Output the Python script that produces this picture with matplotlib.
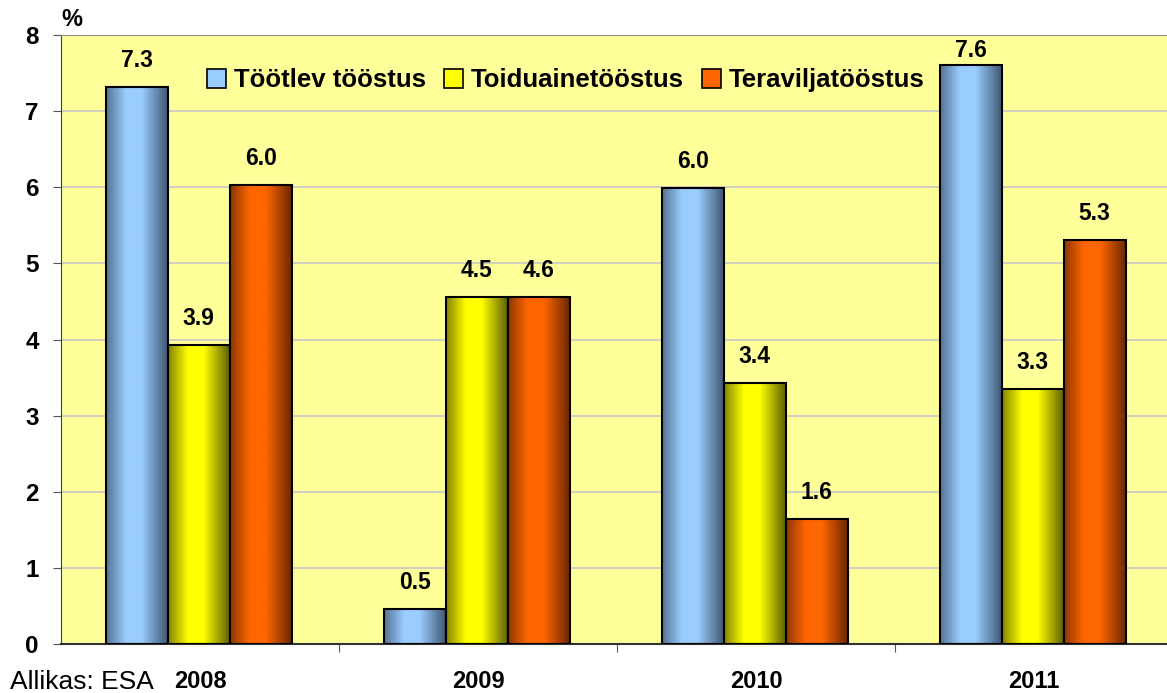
import numpy as np
import matplotlib
matplotlib.use("Agg")
import matplotlib.pyplot as plt
from matplotlib.colors import LinearSegmentedColormap
from matplotlib.patches import Rectangle
from matplotlib.legend_handler import HandlerBase

plt.rcParams['font.family'] = ['Liberation Sans', 'DejaVu Sans']

years = ["2008", "2009", "2010", "2011"]
series_names = ["Töötlev tööstus", "Toiduainetööstus", "Teraviljatööstus"]
tootlev = [7.32, 0.46, 5.99, 7.60]
toiduaine = [3.93, 4.56, 3.43, 3.35]
teravilja = [6.03, 4.56, 1.64, 5.31]
tootlev_lbl = ["7.3", "0.5", "6.0", "7.6"]
toiduaine_lbl = ["3.9", "4.5", "3.4", "3.3"]
teravilja_lbl = ["6.0", "4.6", "1.6", "5.3"]

series = [tootlev, toiduaine, teravilja]
labels = [tootlev_lbl, toiduaine_lbl, teravilja_lbl]
edge_cols = ["#3f5770", "#5e5e00", "#6a2800"]
mid_cols = ["#99ccff", "#ffff00", "#ff6600"]

fig = plt.figure(figsize=(11.67, 6.93), dpi=100)
ax = fig.add_axes([0.0523, 0.0707, 0.9477, 0.8788])
ax.set_facecolor("#ffff99")

x = np.arange(len(years))
w = 0.223
prof = np.linspace(0, 1, 200)
# brightness profile: dark edges, light centre slightly left of middle
bright = np.clip(1 - np.abs(prof - 0.45) / 0.55, 0, 1)
bright = np.minimum(1.0, bright * 1.3)
grad = bright.reshape(1, -1)


def make_cmap(i):
    return LinearSegmentedColormap.from_list(f"g{i}", [edge_cols[i], mid_cols[i]])


for i, vals in enumerate(series):
    cmap = make_cmap(i)
    xs = x - 0.005 + (i - 1) * w
    bars = ax.bar(xs, vals, width=w, facecolor="none", edgecolor="black",
                  linewidth=1.5, zorder=3)
    for b, lab in zip(bars, labels[i]):
        x0, y0 = b.get_x(), b.get_y()
        bw, bh = b.get_width(), b.get_height()
        im = ax.imshow(grad, cmap=cmap, vmin=0, vmax=1, aspect="auto",
                       extent=(x0, x0 + bw, y0, y0 + bh), zorder=2,
                       interpolation="bilinear")
        im.set_clip_path(b)
        ly = min(y0 + bh + 0.35, 7.8)
        ax.text(x0 + bw / 2, ly, lab, ha="center", va="center",
                fontsize=16.5, fontweight="bold", zorder=4)

ax.set_xlim(-0.5, 3.478)
ax.set_ylim(0, 8)
ax.set_yticks(range(0, 9))
ax.set_yticklabels([str(v) for v in range(0, 9)], fontsize=17.5, fontweight="bold")
ax.set_xticks([0.5, 1.5, 2.5])
ax.set_xticklabels([])
ax.tick_params(axis="x", length=6, color="#555555")
ax.tick_params(axis="y", length=6, color="#555555", pad=10)
for yr, xi in zip(years, x):
    ax.text(xi, -0.49, yr, ha="center", va="center", fontsize=17,
            fontweight="bold", transform=ax.transData, clip_on=False)

ax.grid(axis="y", color="#c8c8c8", linewidth=1.2, zorder=1)
ax.set_axisbelow(True)
ax.spines["right"].set_visible(False)
ax.spines["top"].set_color("#909090")
ax.spines["left"].set_color("#404040")
ax.spines["bottom"].set_color("#303030")
ax.spines["bottom"].set_linewidth(1.5)


class GradHandler(HandlerBase):
    def __init__(self, idx):
        super().__init__()
        self.idx = idx

    def create_artists(self, legend, orig_handle, xdescent, ydescent, width,
                       height, fontsize, trans):
        s = min(width, height) * 1.05
        cx = -xdescent + width / 2
        r = Rectangle((cx - s / 2, -ydescent + (height - s) / 2), s, s,
                      facecolor=mid_cols[self.idx], edgecolor="black",
                      linewidth=1.2, transform=trans)
        return [r]


handles = [Rectangle((0, 0), 1, 1) for _ in series_names]
ax.legend(handles, series_names, loc="center", bbox_to_anchor=(0.456, 0.926),
          ncol=3, frameon=False, prop={"size": 18.5, "weight": "bold"},
          handlelength=0.8, handletextpad=0.3, columnspacing=0.65,
          handler_map={h: GradHandler(i) for i, h in enumerate(handles)})

fig.text(72 / 1167, 1 - 20 / 693, "%", fontsize=17, fontweight="bold",
         ha="center", va="center")
fig.text(10 / 1167, 1 - 682 / 693, "Allikas: ESA", fontsize=19, ha="left",
         va="center")

fig.savefig("out.png", dpi=100)
